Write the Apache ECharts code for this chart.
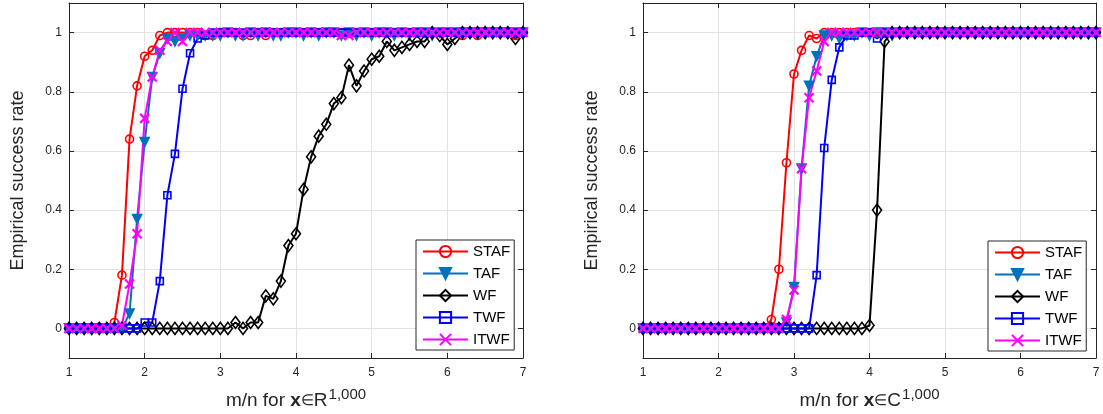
<!DOCTYPE html>
<html>
<head>
<meta charset="utf-8">
<script src="https://cdn.jsdelivr.net/npm/echarts@6/dist/echarts.min.js"></script>
<style>
html,body{margin:0;padding:0;background:#fff;}
#c{width:1103px;height:414px;}
</style>
</head>
<body>
<div id="c"></div>
<script>
// m/n values (x axis)
const xs = [1.0,1.1,1.2,1.3,1.4,1.5,1.6,1.7,1.8,1.9,
            2.0,2.1,2.2,2.3,2.4,2.5,2.6,2.7,2.8,2.9,
            3.0,3.1,3.2,3.3,3.4,3.5,3.6,3.7,3.8,3.9,
            4.0,4.1,4.2,4.3,4.4,4.5,4.6,4.7,4.8,4.9,
            5.0,5.1,5.2,5.3,5.4,5.5,5.6,5.7,5.8,5.9,
            6.0,6.1,6.2,6.3,6.4,6.5,6.6,6.7,6.8,6.9,
            7.0];
const seriesNames = ['STAF','TAF','WF','TWF','ITWF'];
const yTicks = [0,0.2,0.4,0.6,0.8,1];
const xTicks = [1,2,3,4,5,6,7];

// Left panel: real case
const realSTAF = [0,0,0,0,0,0,0.02,0.18,0.64,0.82,
  0.92,0.94,0.99,1,1,1,1,1,0.99,0.99,
  1,1,1,0.99,0.99,1,0.99,1,1,1,
  1,1,1,1,1,1,1,1,1,1,
  1,1,1,1,1,1,1,1,1,1,
  1,1,0.99,1,0.99,1,1,1,1,0.99,
  1];
const realTAF = [0,0,0,0,0,0,0,0,0.05,0.37,
  0.63,0.85,0.93,0.98,0.97,0.98,0.99,0.99,0.99,0.99,
  0.99,1,0.99,0.99,1,0.99,1,0.99,0.99,1,
  1,0.99,1,0.99,1,1,0.99,1,0.99,1,
  0.99,1,1,0.99,1,0.99,1,1,0.99,1,
  1,1,1,1,1,1,1,1,1,1,
  1];
const realWF = [0,0,0,0,0,0,0,0,0,0,
  0,0,0,0,0,0,0,0,0,0,
  0,0,0.02,0,0.02,0.02,0.11,0.10,0.16,0.28,
  0.32,0.47,0.58,0.65,0.69,0.76,0.78,0.89,0.82,0.87,
  0.91,0.92,0.97,0.94,0.95,0.96,0.97,0.97,1,0.99,
  0.96,0.98,1,1,1,1,1,1,1,0.98,
  1];
const realTWF = [0,0,0,0,0,0,0,0,0,0,
  0.02,0.02,0.16,0.45,0.59,0.81,0.93,0.98,0.99,1,
  1,1,1,1,1,1,1,1,1,1,
  1,1,1,1,1,1,1,1,1,1,
  1,1,1,1,1,1,1,1,1,1,
  1,1,1,1,1,1,1,1,1,1,
  1];
const realITWF = [0,0,0,0,0,0,0,0.01,0.15,0.32,
  0.71,0.85,0.94,0.97,1,0.97,1,1,1,1,
  1,1,1,1,1,1,1,1,1,1,
  1,1,1,1,1,1,0.99,0.99,1,1,
  1,1,1,1,1,1,1,1,1,1,
  1,1,1,1,1,1,1,1,1,1,
  1];

// Right panel: complex case
const cplxSTAF = [0,0,0,0,0,0,0,0,0,0,
  0,0,0,0,0,0,0,0.03,0.20,0.56,
  0.86,0.94,0.99,0.98,1,1,1,1,1,1,
  1,1,1,1,1,1,1,1,1,1,
  1,1,1,1,1,1,1,1,1,1,
  1,1,1,1,1,1,1,1,1,1,
  1];
const cplxTAF = [0,0,0,0,0,0,0,0,0,0,
  0,0,0,0,0,0,0,0,0,0.02,
  0.14,0.54,0.82,0.92,0.99,0.99,0.98,0.99,0.99,1,
  0.99,1,1,0.99,1,1,1,1,1,1,
  1,1,1,1,1,1,1,1,1,1,
  1,1,1,1,1,1,1,1,1,1,
  1];
const cplxWF = [0,0,0,0,0,0,0,0,0,0,
  0,0,0,0,0,0,0,0,0,0,
  0,0,0,0,0,0,0,0,0,0,
  0.01,0.40,0.97,1,1,1,1,1,1,1,
  1,1,1,1,1,1,1,1,1,1,
  1,1,1,1,1,1,1,1,1,1,
  1];
const cplxTWF = [0,0,0,0,0,0,0,0,0,0,
  0,0,0,0,0,0,0,0,0,0,
  0,0,0,0.18,0.61,0.84,0.95,0.99,0.99,1,
  1,0.98,1,1,1,1,1,1,1,1,
  1,1,1,1,1,1,1,1,1,1,
  1,1,1,1,1,1,1,1,1,1,
  1];
const cplxITWF = [0,0,0,0,0,0,0,0,0,0,
  0,0,0,0,0,0,0,0,0,0.03,
  0.13,0.54,0.78,0.87,0.97,1,1,1,1,1,
  1,1,1,1,1,1,1,1,1,1,
  1,1,1,1,1,1,1,1,1,1,
  1,1,1,1,1,1,1,1,1,1,
  1];

const colors = {STAF:'#FF0000', TAF:'#0072BD', WF:'#000000', TWF:'#0000FF', ITWF:'#FF00FF'};
const symbols = {
  STAF:{symbol:'circle', size:8, fill:false, rotate:0},
  TAF:{symbol:'triangle', size:9, fill:true, rotate:180},
  WF:{symbol:'diamond', size:[9,12], fill:false, rotate:0},
  TWF:{symbol:'rect', size:7, fill:false, rotate:0},
  ITWF:{symbol:'path://M0,0L10,10M10,0L0,10', size:9, fill:false, rotate:0}
};

const AX = '#262626';
const FONT = '"Liberation Sans", Arial, Helvetica, sans-serif';

function mkSeries(name, vals, axisIdx) {
  const s = symbols[name], c = colors[name];
  return {
    name: name, type: 'line',
    xAxisIndex: axisIdx, yAxisIndex: axisIdx,
    data: xs.map((x, i) => [x, vals[i]]),
    symbol: s.symbol, symbolSize: s.size, symbolRotate: s.rotate,
    showAllSymbol: true,
    animation: false,
    lineStyle: {color: c, width: 2},
    itemStyle: {color: s.fill ? c : 'rgba(255,255,255,0)', borderColor: c, borderWidth: name === 'ITWF' ? 2.2 : 1.6},
    emphasis: {disabled: true}
  };
}

function xAxisPair(gi, nameRich) {
  return [{
    type:'value', gridIndex: gi, min:1, max:7, interval:1, position:'bottom',
    axisLine:{show:true, onZero:false, lineStyle:{color:AX, width:1}},
    axisTick:{show:true, inside:true, length:5, lineStyle:{color:AX}},
    axisLabel:{color:AX, fontSize:12, fontFamily:FONT, margin:9},
    splitLine:{show:true, lineStyle:{color:'#e3e3e3', width:1}},
    name: nameRich, nameLocation:'middle', nameGap:29,
    nameTextStyle:{
      color:AX, fontFamily:FONT, fontSize:19,
      rich:{
        n:{fontSize:19, color:AX, fontFamily:FONT},
        b:{fontSize:19, color:AX, fontFamily:FONT, fontWeight:'bold'},
        e:{fontSize:15, color:AX, fontFamily:FONT},
        s:{fontSize:15, color:AX, fontFamily:FONT, verticalAlign:'top', padding:[0,0,12,1]}
      }
    }
  },{
    type:'value', gridIndex: gi, min:1, max:7, interval:1, position:'top',
    axisLine:{show:true, onZero:false, lineStyle:{color:AX, width:1}},
    axisTick:{show:true, inside:true, length:5, lineStyle:{color:AX}},
    axisLabel:{show:false}, splitLine:{show:false}
  }];
}
function yAxisPair(gi) {
  return [{
    type:'value', gridIndex: gi, min:-0.1, max:1.1, position:'left',
    axisLine:{show:true, onZero:false, lineStyle:{color:AX, width:1}},
    axisTick:{show:true, inside:true, length:5, customValues: yTicks, lineStyle:{color:AX}},
    axisLabel:{color:AX, fontSize:12, fontFamily:FONT, margin:7, customValues: yTicks,
      formatter: v => String(Math.round(v*10)/10)},
    splitLine:{show:true, lineStyle:{color:'#e3e3e3', width:1}},
    name:'Empirical success rate', nameLocation:'middle', nameGap:42,
    nameTextStyle:{color:AX, fontSize:18, fontFamily:FONT}
  },{
    type:'value', gridIndex: gi, min:-0.1, max:1.1, position:'right',
    axisLine:{show:true, onZero:false, lineStyle:{color:AX, width:1}},
    axisTick:{show:true, inside:true, length:5, customValues: yTicks, lineStyle:{color:AX}},
    axisLabel:{show:false}, splitLine:{show:false}
  }];
}

const chart = echarts.init(document.getElementById('c'), null, {renderer:'canvas'});
const xa = [].concat(xAxisPair(0, '{n|m/n for }{b|x}{e|∈}{n|R}{s|1,000}'), xAxisPair(1, '{n|m/n for }{b|x}{e|∈}{n|C}{s|1,000}'));
const ya = [].concat(yAxisPair(0), yAxisPair(1));
const realSets = [realSTAF, realTAF, realWF, realTWF, realITWF];
const cplxSets = [cplxSTAF, cplxTAF, cplxWF, cplxTWF, cplxITWF];
const series = [];
seriesNames.forEach((n, i) => series.push(mkSeries(n, realSets[i], 0)));
seriesNames.forEach((n, i) => series.push(mkSeries(n, cplxSets[i], 2)));

const legendCommon = {
  orient:'vertical', data: seriesNames,
  backgroundColor:'#fff', borderColor:AX, borderWidth:1,
  padding:[4,4,3,6], itemWidth:45, itemHeight:14, itemGap:7,
  textStyle:{color:'#000', fontSize:15, fontFamily:FONT, lineHeight:14},
  selectedMode:false
};

chart.setOption({
  animation:false,
  backgroundColor:'#fff',
  grid:[
    {left:69, top:3, width:454, height:355, containLabel:false, outerBoundsMode:'none'},
    {left:643, top:3, width:453, height:355, containLabel:false, outerBoundsMode:'none'}
  ],
  xAxis: xa,
  yAxis: ya,
  legend:[
    Object.assign({left:416, top:240}, legendCommon),
    Object.assign({left:988, top:241}, legendCommon)
  ],
  series: series
});
</script>
</body>
</html>
